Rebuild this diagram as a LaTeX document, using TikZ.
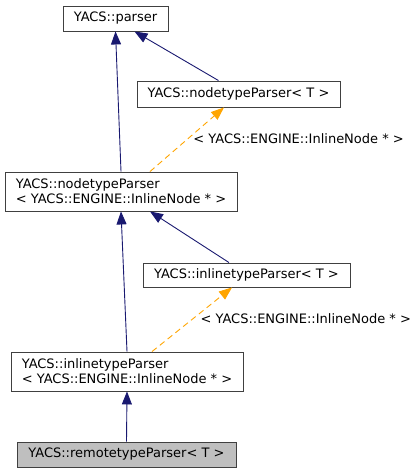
\documentclass[tikz,border=0pt]{standalone}
\usepackage{fontspec}
\setmainfont{DejaVu Sans}
\usetikzlibrary{arrows.meta}
\definecolor{edgeblue}{HTML}{191970}
\definecolor{edgeorange}{HTML}{FFA500}
\definecolor{boxgray}{HTML}{BFBFBF}
\tikzset{
  cls/.style={draw=black!75, line width=0.9pt, fill=white, inner sep=0pt, align=left,
    font=\fontsize{13}{15}\selectfont},
  inherit/.style={draw=edgeblue, line width=0.9pt, -{Triangle[length=13pt,width=10pt]}},
  templ/.style={draw=edgeorange, line width=0.9pt, dash pattern=on 6pt off 4pt, -{Triangle[length=13pt,width=10pt]}},
  lbl/.style={font=\fontsize{13}{15}\selectfont, inner sep=0pt}
}
\begin{document}
\begin{tikzpicture}[x=1pt,y=-1pt]
\useasboundingbox (0,0) rectangle (417,473);
\node[cls, minimum width=105pt, minimum height=25pt] (P) at (115.5,18.5) {YACS::parser};
\node[cls, minimum width=203pt, minimum height=26pt] (NT) at (238.5,94) {YACS::nodetypeParser< T >};
\node[cls, minimum width=232pt, minimum height=39pt] (NI) at (121,191.5) {YACS::nodetypeParser\\< YACS::ENGINE::InlineNode * >};
\node[cls, minimum width=207pt, minimum height=24pt] (IT) at (246.5,275) {YACS::inlinetypeParser< T >};
\node[cls, minimum width=232pt, minimum height=39pt] (II) at (127,371.5) {YACS::inlinetypeParser\\< YACS::ENGINE::InlineNode * >};
\node[cls, fill=boxgray, minimum width=219pt, minimum height=25pt] (R) at (126.5,454.5) {YACS::remotetypeParser< T >};

\draw[inherit] (NI.north) -- (P.south);
\draw[inherit] ([xshift=-20pt]NT.north) -- ([xshift=19pt]P.south);
\draw[templ] ([xshift=29pt]NI.north) -- node[lbl, pos=0.52, right=4.5pt] (L1) {< YACS::ENGINE::InlineNode * >} ([xshift=-14.5pt]NT.south);
\draw[inherit] (II.north) -- (NI.south);
\draw[inherit] ([xshift=-17.5pt]IT.north) -- ([xshift=29pt]NI.south);
\draw[templ] ([xshift=25pt]II.north) -- node[lbl, pos=0.52, right=6.5pt] (L2) {< YACS::ENGINE::InlineNode * >} ([xshift=-14.5pt]IT.south);
\draw[inherit] (R.north) -- (II.south);
\end{tikzpicture}
\end{document}
